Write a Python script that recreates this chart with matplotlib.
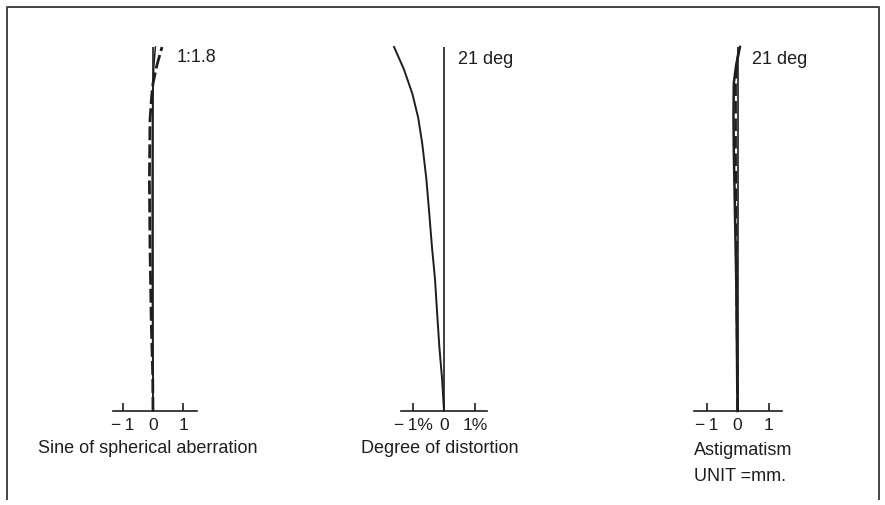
import matplotlib
matplotlib.use("Agg")
import matplotlib.pyplot as plt
from matplotlib.lines import Line2D

plt.rcParams['font.family'] = ['Liberation Sans', 'DejaVu Sans']

# --- data ---
# sine of spherical aberration (relative aperture height 0..1, f/1.8 at top), mm
sa_height = [0, 0.3, 0.6, 0.8, 0.9, 0.95, 1.0]
sa_solid = [0, -0.02, -0.03, -0.02, 0.0, 0.03, 0.08]
sine_height = [0, 0.1, 0.25, 0.45, 0.63, 0.8, 0.86, 0.9, 0.95, 1.0]
sine_dashed = [0, -0.01, -0.06, -0.10, -0.12, -0.10, -0.05, 0.0, 0.13, 0.30]

# distortion (field angle in deg), %
dist_angle = [0, 1.8, 3.7, 5.6, 7.6, 9.5, 11.5, 13.4, 15.4, 16.9, 18.3, 19.7, 21]
dist_pct = [0, -0.06, -0.15, -0.22, -0.29, -0.39, -0.48, -0.57, -0.70, -0.83,
            -1.02, -1.29, -1.61]

# astigmatism (field angle in deg), mm
ast_angle = [0, 3.8, 7.5, 11.3, 15.1, 17.0, 18.9, 20.0, 21]
ast_sag = [0, -0.02, -0.04, -0.08, -0.12, -0.13, -0.12, -0.04, 0.08]
ast_mer = [0, -0.01, -0.03, -0.05, -0.06, -0.06, -0.06, -0.02, 0.05]

W, H = 885, 506
fig = plt.figure(figsize=(W / 100, H / 100), dpi=100)
fig.patch.set_facecolor('white')
ink = '#1e1e1e'

def fx(x):
    return x / W

def fy(y):
    return 1 - y / H

def make_axes(center, scale, xlim, ylim, bounds, ticklabels):
    left = center + xlim[0] * scale
    width = (xlim[1] - xlim[0]) * scale
    ax = fig.add_axes([fx(left), fy(412), width / W, (412 - 48) / H])
    ax.set_xlim(*xlim)
    ax.set_ylim(*ylim)
    ax.patch.set_alpha(0)
    for s in ['top', 'right', 'left']:
        ax.spines[s].set_visible(False)
    ax.spines['bottom'].set_bounds(*bounds)
    ax.spines['bottom'].set_color(ink)
    ax.spines['bottom'].set_linewidth(1.2)
    ax.set_yticks([])
    ax.set_xticks([-1, 0, 1])
    ax.set_xticklabels(ticklabels)
    ax.tick_params(axis='x', direction='in', length=6, width=1.2, color=ink,
                   pad=4, labelsize=12.5, labelcolor=ink)
    ax.axvline(0, color=ink, lw=1.2)
    return ax

# panel 1
ax1 = make_axes(153, 30, (-1.5, 1.5), (0, 1), (-1.33, 1.47), ['−\u20091', '0', '1'])
ax1.plot(sa_solid, sa_height, color=ink, lw=1.1, clip_on=False)
ax1.plot(sine_dashed, sine_height, color=ink, lw=2.0, ls=(0, (5, 1.5)), clip_on=False)

# panel 2
ax2 = make_axes(444, 31, (-1.8, 1.6), (0, 21), (-1.38, 1.39), ['−\u20091%', '0', '1%'])
ax2.plot(dist_pct, dist_angle, color=ink, lw=1.4, clip_on=False)

# panel 3
ax3 = make_axes(737.5, 31, (-1.5, 1.6), (0, 21), (-1.4, 1.43), ['−\u20091', '0', '1'])
ax3.plot(ast_sag, ast_angle, color=ink, lw=1.8, clip_on=False)
ax3.plot(ast_mer, ast_angle, color=ink, lw=1.8, ls=(0, (5, 2)), clip_on=False)

# labels
fs = 13
fig.text(fx(177), fy(57), '1:1.8', fontsize=fs, color=ink, va='center')
fig.text(fx(458), fy(59), '21 deg', fontsize=fs, color=ink, va='center')
fig.text(fx(752), fy(60), '21 deg', fontsize=fs, color=ink, va='center')
fig.text(fx(148), fy(449), 'Sine of spherical aberration', fontsize=fs, color=ink,
         ha='center', va='center')
fig.text(fx(440), fy(449), 'Degree of distortion', fontsize=fs, color=ink,
         ha='center', va='center')
fig.text(fx(694), fy(451), 'Astigmatism', fontsize=fs, color=ink, va='center')
fig.text(fx(694), fy(477), 'UNIT =mm.', fontsize=fs, color=ink, va='center')

# frame (open at the bottom)
fig.add_artist(Line2D([fx(7), fx(7), fx(879), fx(879)],
                      [fy(500), fy(8), fy(8), fy(500)],
                      color='#444444', lw=1.4))

fig.savefig('out.png', dpi=100)
